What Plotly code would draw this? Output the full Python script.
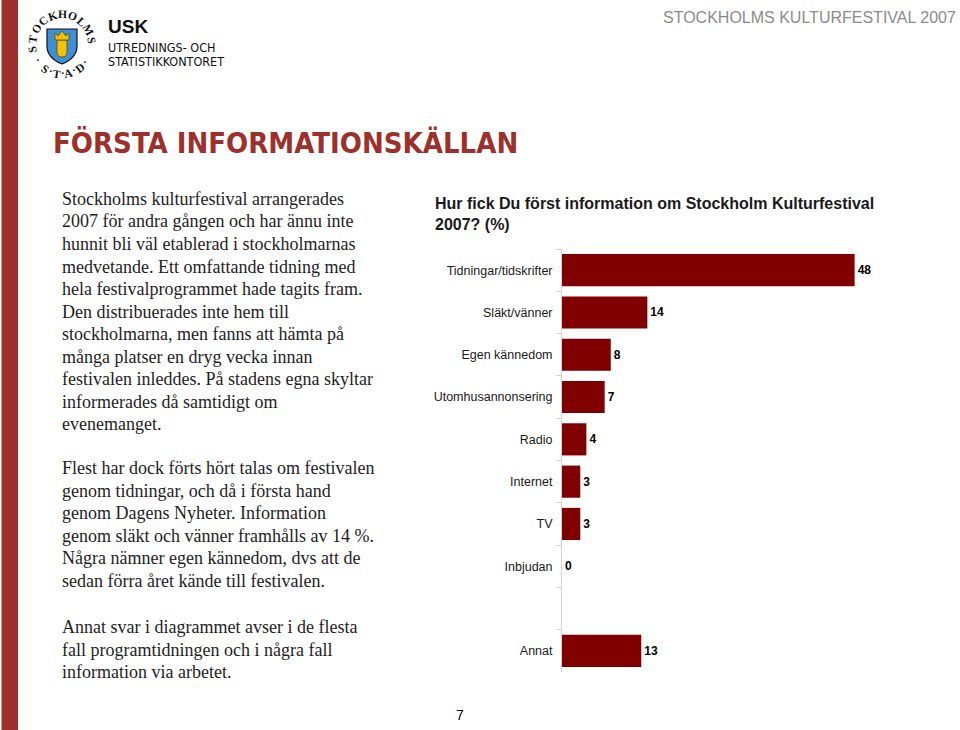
import math
import plotly.graph_objects as go

# ---------------- data ----------------
categories = ["Tidningar/tidskrifter", "Släkt/vänner", "Egen kännedom",
              "Utomhusannonsering", "Radio", "Internet", "TV", "Inbjudan",
              " ", "Annat"]
values = [48, 14, 8, 7, 4, 3, 3, 0, None, 13]
value_labels = ["48", "14", "8", "7", "4", "3", "3", "0", "", "13"]

chart_title = ["Hur fick Du först information om Stockholm Kulturfestival",
               "2007? (%)"]
page_title = "FÖRSTA INFORMATIONSKÄLLAN"
header_right = "STOCKHOLMS KULTURFESTIVAL 2007"
org_lines = ["USK", "UTREDNINGS- OCH", "STATISTIKKONTORET"]
logo_top = "STOCKHOLMS"
logo_bottom = "STAD"
page_number = "7"

para1 = ["Stockholms kulturfestival arrangerades",
         "2007 för andra gången och har ännu inte",
         "hunnit bli väl etablerad i stockholmarnas",
         "medvetande. Ett omfattande tidning med",
         "hela festivalprogrammet hade tagits fram.",
         "Den distribuerades inte hem till",
         "stockholmarna, men fanns att hämta på",
         "många platser en dryg vecka innan",
         "festivalen inleddes. På stadens egna skyltar",
         "informerades då samtidigt om",
         "evenemanget."]
para2 = ["Flest har dock förts hört talas om festivalen",
         "genom tidningar, och då i första hand",
         "genom Dagens Nyheter. Information",
         "genom släkt och vänner framhålls av 14 %.",
         "Några nämner egen kännedom, dvs att de",
         "sedan förra året kände till festivalen."]
para3 = ["Annat svar i diagrammet avser i de flesta",
         "fall programtidningen och i några fall",
         "information via arbetet."]

# ---------------- layout helpers ----------------
W, H = 960, 730
L, R, T, B = 562, 81, 249, 58
PW, PH = W - L - R, H - T - B


def px(x):
    return (x - L) / PW


def py(y):
    return (H - B - y) / PH


BAR = "#800000"
RED = "#9e302b"
AXIS = "#d4d4d4"
SANS = "Liberation Sans, Arial, sans-serif"
COND = "DejaVu Sans Condensed, Liberation Sans Narrow, Arial Narrow, Liberation Sans, sans-serif"
SERIF = "Liberation Serif, Times New Roman, serif"

fig = go.Figure()
fig.add_trace(go.Bar(
    y=categories, x=values, orientation="h",
    marker=dict(color=BAR, line=dict(width=0)),
    width=0.76,
    text=value_labels, textposition="outside",
    textfont=dict(family=SANS, size=12, color="#000000"),
    texttemplate="<b>%{text}</b>",
    cliponaxis=False, hoverinfo="skip",
))

annotations = []
shapes = []


def txt(x, y, s, size, color="#1a1a1a", family=SANS,
        xanchor="left", yanchor="middle", angle=0):
    annotations.append(dict(
        xref="paper", yref="paper", x=px(x), y=py(y), text=s,
        showarrow=False, xanchor=xanchor, yanchor=yanchor, textangle=angle,
        font=dict(family=family, size=size, color=color)))


# left red strip
shapes.append(dict(type="rect", xref="paper", yref="paper",
                   x0=px(1.5), x1=px(18), y0=py(0), y1=py(730),
                   fillcolor=RED, line=dict(width=0), layer="below"))


def path(points_cmds):
    out = []
    for cmd, pts in points_cmds:
        coords = " ".join(f"{px(a):.5f},{py(b):.5f}" for a, b in pts)
        out.append(f"{cmd} {coords}")
    return " ".join(out) + " Z"


# logo shield
shield = path([("M", [(47, 29)]), ("L", [(77, 29)]), ("L", [(77, 46)]),
               ("Q", [(77, 58), (62, 64)]), ("Q", [(47, 58), (47, 46)])])
shapes.append(dict(type="path", xref="paper", yref="paper", path=shield,
                   fillcolor="#3d8fd9", line=dict(color="#111111", width=1.2)))
face = path([("M", [(57, 40)]), ("L", [(67, 40)]), ("L", [(67, 52)]),
             ("Q", [(67, 57), (62, 57)]), ("Q", [(57, 57), (57, 52)])])
shapes.append(dict(type="path", xref="paper", yref="paper", path=face,
                   fillcolor="#f3c300", line=dict(color="#5a4a00", width=0.8)))
crown = path([("M", [(55, 40)]), ("L", [(55, 33)]), ("L", [(58, 36)]),
              ("L", [(62, 31)]), ("L", [(66, 36)]), ("L", [(69, 33)]),
              ("L", [(69, 40)])])
shapes.append(dict(type="path", xref="paper", yref="paper", path=crown,
                   fillcolor="#f3c300", line=dict(color="#5a4a00", width=0.8)))

# logo ring letters
cx, cy, rr = 62, 44, 30
n = len(logo_top)
for i, ch in enumerate(logo_top):
    th = 190 - i * (182 / (n - 1))
    x = cx + rr * math.cos(math.radians(th))
    y = cy - rr * math.sin(math.radians(th))
    txt(x, y, f"<b>{ch}</b>", 11.5, "#111111", SERIF,
        xanchor="center", angle=90 - th)
bottom_angles = [236, 260, 283, 306]
for ch, th in zip(logo_bottom, bottom_angles):
    x = cx + rr * math.cos(math.radians(th))
    y = cy - rr * math.sin(math.radians(th))
    txt(x, y, f"<b>{ch}</b>", 11.5, "#111111", SERIF,
        xanchor="center", angle=270 - th)
for th in [214, 248, 271, 295, 322]:
    x = cx + (rr - 1) * math.cos(math.radians(th))
    y = cy - (rr - 1) * math.sin(math.radians(th))
    txt(x, y, "<b>·</b>", 11, "#111111", SERIF, xanchor="center")

# organisation text
txt(106, 27, f"<b>{org_lines[0]}</b>", 19, "#111111", SANS)
txt(106, 47, org_lines[1], 12.5, "#111111", COND)
txt(106, 61, org_lines[2], 12.5, "#111111", COND)

# header right
txt(958, 17, header_right, 16, "#8c8c8c", SANS, xanchor="right")

# page title
txt(51, 143, f"<b>{page_title}</b>", 29, RED, COND)

# body text
for start, lines in [(199, para1), (468, para2), (627, para3)]:
    for i, line in enumerate(lines):
        txt(60, start + i * 22.5, line, 18, "#1e1e1e", SERIF)

# chart title
txt(433, 204, f"<b>{chart_title[0]}</b>", 16, "#1a1a1a")
txt(433, 225, f"<b>{chart_title[1]}</b>", 16, "#1a1a1a")

# page number
txt(460, 715, page_number, 14, "#000000", xanchor="center")

fig.update_layout(
    width=W, height=H, autosize=False,
    margin=dict(l=L, r=R, t=T, b=B, pad=0),
    paper_bgcolor="white", plot_bgcolor="white",
    showlegend=False,
    annotations=annotations, shapes=shapes,
    xaxis=dict(visible=False, range=[0, 52], fixedrange=True),
    yaxis=dict(type="category", categoryorder="array",
               categoryarray=categories, autorange="reversed",
               showline=True, linecolor=AXIS, linewidth=1,
               ticks="outside", tickson="boundaries", ticklen=5,
               tickcolor=AXIS, showgrid=False, zeroline=False,
               ticklabelstandoff=6,
               tickfont=dict(family=SANS, size=12.5, color="#1a1a1a")),
)

fig.write_html("out.html",
               config={"displayModeBar": False},
               post_script="document.body.style.margin='0px';"
                           "document.body.style.padding='0px';")
